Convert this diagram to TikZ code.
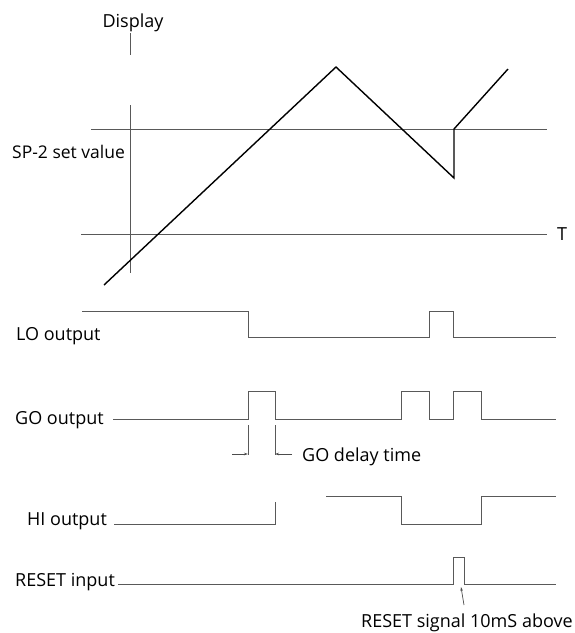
\documentclass[tikz,border=0pt]{standalone}
\usepackage{fontspec}
\setmainfont{Open Sans}
\usetikzlibrary{arrows.meta}
\begin{document}
\begin{tikzpicture}[x=1pt,y=-1pt,
  lbl/.style={inner sep=0pt,anchor=base west,font=\fontsize{18}{21}\selectfont},
  axis/.style={draw=black!65,line width=0.8pt},
  sig/.style={draw=black!65,line width=0.9pt},
  curve/.style={draw=black,line width=1.4pt},
  marker/.style={draw=black!70,line width=0.7pt,-{Stealth[length=4pt,width=2.5pt]}}]
\useasboundingbox (0,0) rectangle (575,633);
% labels
\node[lbl,anchor=base] (disp) at (133,27) {Display};
\node[lbl,font=\fontsize{17.5}{21}\selectfont] (sp) at (12,158) {SP-2 set value};
\node[lbl] (t) at (557,240) {T};
\node[lbl] (lo) at (16,340.5) {LO output};
\node[lbl] (go) at (15,424) {GO output};
\node[lbl] (gd) at (302,461) {GO delay time};
\node[lbl] (hi) at (27,525.5) {HI output};
\node[lbl] (rs) at (15,586) {RESET input};
\node[lbl] (rsn) at (361,627) {RESET signal 10mS above};
% axes
\draw[axis] (130,33) -- (130,55);
\draw[axis] (130,105) -- (130,273);
\draw[axis] (91,129) -- (547,129);
\draw[axis] (81,234) -- (547,234);
% display curve
\draw[curve,line join=miter] (104,285) -- (336,67) -- (454,178) -- (454,129) -- (508,69);
% LO
\draw[sig] (82,311) -- (248,311) -- (248,337) -- (429,337) -- (429,311) -- (453,311) -- (453,337) -- (556,337);
% GO
\draw[sig] (113,419) -- (248,419) -- (248,391) -- (275,391) -- (275,419) -- (401,419) -- (401,391) -- (429,391) -- (429,419) -- (453,419) -- (453,391) -- (481,391) -- (481,419) -- (556,419);
% delay markers
\draw[sig,line width=0.7pt] (248,425) -- (248,455);
\draw[sig,line width=0.7pt] (275,425) -- (275,455);
\coordinate (da1) at (232,454);
\coordinate (da2) at (248,454);
\coordinate (db1) at (292,454);
\coordinate (db2) at (275,454);
\draw[marker] (da1) -- (da2);
\draw[marker] (db1) -- (db2);
% HI
\draw[sig] (114,524) -- (275,524) -- (275,502);
\draw[sig] (326,496) -- (401,496) -- (401,524) -- (481,524) -- (481,496) -- (556,496);
% RESET
\draw[sig] (118,584) -- (453,584) -- (453,557) -- (464,557) -- (464,584) -- (556,584);
\coordinate (ra1) at (464,605);
\coordinate (ra2) at (461,587);
\draw[marker] (ra1) -- (ra2);
\end{tikzpicture}
\end{document}
